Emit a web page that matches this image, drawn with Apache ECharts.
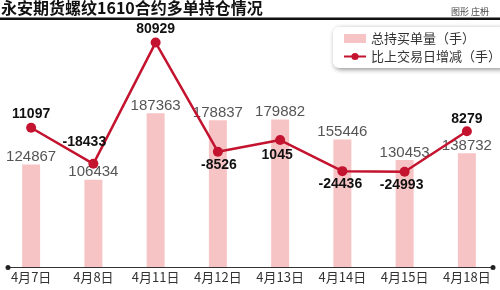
<!DOCTYPE html>
<html>
<head>
<meta charset="utf-8">
<script src="https://cdn.jsdelivr.net/npm/echarts@6/dist/echarts.min.js"></script>
<style>
html,body{margin:0;padding:0;background:#fff;}
#c{width:500px;height:290px;}
</style>
</head>
<body>
<div id="c"></div>
<script>
// ---- data ----
var categories = ['4月7日','4月8日','4月11日','4月12日','4月13日','4月14日','4月15日','4月18日'];
var holdings = [124867, 106434, 187363, 178837, 179882, 155446, 130453, 138732];
var changes = [11097, -18433, 80929, -8526, 1045, -24436, -24993, 8279];
var seriesNames = ['总持买单量（手）', '比上交易日增减（手）'];
var titleText = '永安期货螺纹1610合约多单持仓情况';
var creditText = '图形 庄枬';

// label placement for the change line (style only)
var changeLabelPlace = [
  {position:'top', offset:[0,-1]},
  {position:'top', offset:[-9,-9]},
  {position:'top', offset:[0,0]},
  {position:'bottom', offset:[1,0]},
  {position:'bottom', offset:[-3,2]},
  {position:'bottom', offset:[-2,0]},
  {position:'bottom', offset:[-3,0]},
  {position:'top', offset:[0,1]}
];

var chart = echarts.init(document.getElementById('c'), null, {renderer:'canvas'});
var lineColor = '#c4132f';
var cjk = '"Noto Sans CJK SC", sans-serif';

var lineData = changes.map(function(v, i){
  return {value: v, label: changeLabelPlace[i]};
});

chart.setOption({
  animation: false,
  backgroundColor: '#fff',
  title: [{
    text: titleText,
    left: 1, top: 0,
    padding: 0,
    textStyle: {fontFamily: cjk, fontSize: 16, fontWeight: 'bold', color: '#111'}
  }, {
    text: creditText,
    right: 11, top: 7,
    padding: 0,
    textStyle: {fontFamily: cjk, fontSize: 9, fontWeight: 'normal', color: '#444'}
  }],
  graphic: [{
    type: 'rect',
    shape: {x: 0, y: 17.5, width: 500, height: 2.5},
    style: {fill: '#111'}
  }, {
    type: 'line', z: 5,
    shape: {x1: 8, y1: 267.5, x2: 493, y2: 267.5},
    style: {stroke: '#333', lineWidth: 1}
  }, {
    type: 'circle', z: 5,
    shape: {cx: 8, cy: 267.5, r: 2.5},
    style: {fill: '#222'}
  }, {
    type: 'circle', z: 5,
    shape: {cx: 493, cy: 267.5, r: 2.5},
    style: {fill: '#222'}
  }],
  legend: {
    orient: 'vertical',
    left: 333, top: 27,
    padding: [5, 4, 5, 10],
    itemGap: 5,
    itemWidth: 22, itemHeight: 9,
    backgroundColor: '#fff',
    borderRadius: 6,
    shadowBlur: 5,
    shadowColor: 'rgba(0,0,0,0.45)',
    shadowOffsetX: 1.5, shadowOffsetY: 1.5,
    textStyle: {fontFamily: cjk, fontSize: 13, color: '#333'},
    data: [{name: seriesNames[0], icon: 'rect'}, {name: seriesNames[1]}]
  },
  grid: {left: -2, right: 2, top: 21, bottom: 23},
  xAxis: {
    type: 'category',
    data: categories,
    boundaryGap: true,
    axisLine: {show: false},
    axisTick: {show: false},
    axisLabel: {fontFamily: cjk, fontSize: 13, color: '#333', margin: 4, interval: 0}
  },
  yAxis: [{
    type: 'value', min: 0, max: 300000,
    show: false
  }, {
    type: 'value', min: -103000, max: 98600,
    show: false
  }],
  series: [{
    name: seriesNames[0],
    type: 'bar',
    yAxisIndex: 0,
    data: holdings,
    barWidth: 18,
    itemStyle: {color: '#f7c4c6'},
    label: {
      show: true, position: 'top', distance: 0,
      fontFamily: '"Liberation Sans", Arial, sans-serif',
      fontSize: 15, color: '#555'
    },
    z: 1
  }, {
    name: seriesNames[1],
    type: 'line',
    yAxisIndex: 1,
    data: lineData,
    symbol: 'circle', symbolSize: 10,
    lineStyle: {color: lineColor, width: 2.5},
    itemStyle: {color: lineColor},
    label: {
      show: true, distance: 1,
      fontFamily: '"Liberation Sans Narrow", sans-serif',
      fontWeight: 'bold', fontSize: 14, color: '#111'
    },
    z: 3
  }]
});
</script>
</body>
</html>
